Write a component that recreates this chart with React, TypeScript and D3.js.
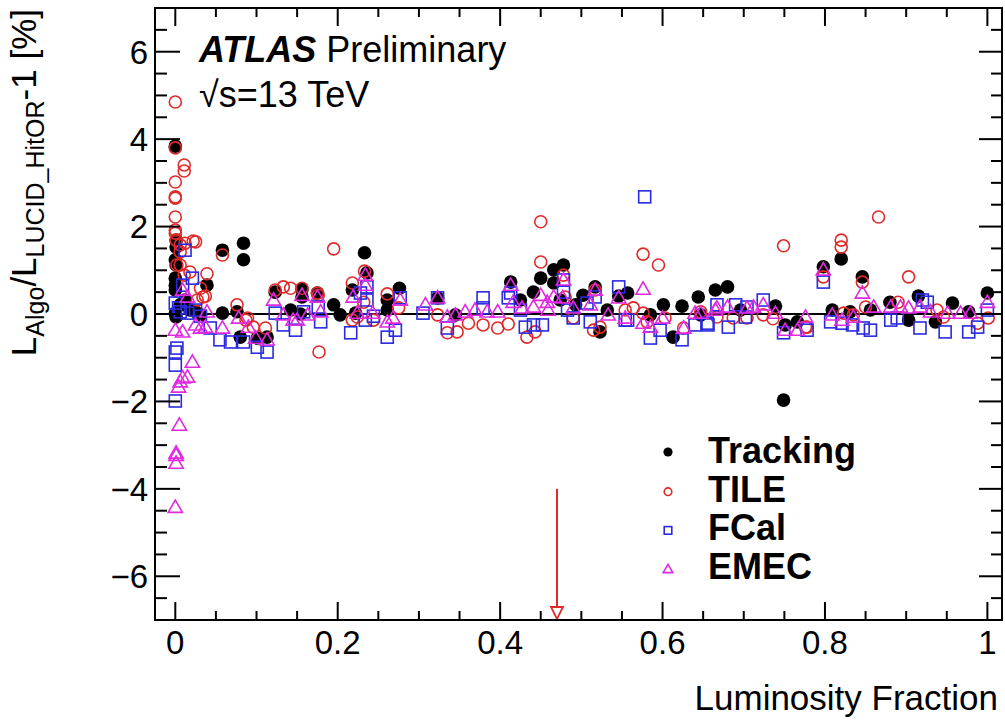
import * as d3 from "d3";
import { useEffect, useRef } from "react";

// [luminosity fraction, L_algo/L_LUCID - 1 in %]
const trackingData = [
  [0.000, 3.84], [0.001, 1.69], [0.001, 1.53], [0.000, 1.24], [0.001, 1.12], [0.000, 0.82], [0.000, 0.66],
  [0.000, 0.55], [0.000, 0.02], [0.001, -0.07], [0.006, 0.21], [0.012, 0.32], [0.018, 0.09], [0.025, 0.05],
  [0.031, -0.02], [0.058, 1.46], [0.084, 1.62], [0.084, 1.24], [0.039, 0.66], [0.058, 0.02], [0.076, 0.05],
  [0.080, -0.53], [0.101, -0.55], [0.113, -0.53], [0.123, 0.50], [0.156, 0.57], [0.156, 0.39], [0.175, 0.48],
  [0.195, 0.21], [0.233, 1.40], [0.236, 0.94], [0.218, 0.55], [0.142, 0.09], [0.154, 0.00], [0.203, -0.02],
  [0.222, 0.02], [0.276, 0.59], [0.261, 0.32], [0.261, 0.09], [0.323, 0.37], [0.345, -0.02], [0.413, 0.73],
  [0.450, 0.82], [0.466, 1.01], [0.478, 1.12], [0.466, 0.71], [0.441, 0.50], [0.502, 0.43], [0.517, 0.62],
  [0.523, -0.41], [0.425, 0.32], [0.474, 0.32], [0.493, 0.21], [0.557, 0.48], [0.546, 0.41], [0.532, 0.09],
  [0.601, 0.21], [0.624, 0.18], [0.644, 0.39], [0.665, 0.55], [0.680, 0.62], [0.613, -0.53], [0.585, -0.02],
  [0.647, -0.02], [0.696, 0.09], [0.739, 0.18], [0.751, -0.25], [0.766, -0.18], [0.749, -1.97], [0.798, 1.08],
  [0.809, 0.09], [0.820, 1.26], [0.846, 0.85], [0.880, 0.27], [0.903, -0.14], [0.915, 0.41], [0.936, -0.18],
  [0.957, 0.25], [0.977, 0.05], [1.000, 0.48], [0.856, 0.09], [0.831, 0.05],
];

const tileData = [
  [0.000, 4.85], [0.000, 3.80], [0.011, 3.41], [0.011, 3.27], [0.000, 3.02], [0.000, 2.68], [0.000, 2.65],
  [0.000, 2.22], [0.000, 1.92], [0.000, 1.85], [0.001, 1.69], [0.006, 1.58], [0.012, 1.62], [0.022, 1.67],
  [0.006, 1.42], [0.006, 1.12], [0.011, 0.89], [0.018, 0.96], [0.039, 0.92], [0.031, 0.59], [0.037, 0.41],
  [0.058, 1.35], [0.025, 1.65], [0.002, 1.12], [0.034, 0.39], [0.027, 0.32], [0.076, 0.21], [0.087, -0.14],
  [0.096, -0.30], [0.111, -0.32], [0.177, -0.87], [0.195, 1.49], [0.123, 0.55], [0.133, 0.62], [0.156, 0.59],
  [0.175, 0.48], [0.142, 0.59], [0.089, -0.09], [0.233, 0.98], [0.218, 0.71], [0.232, 0.27], [0.244, -0.14],
  [0.224, -0.07], [0.261, 0.46], [0.275, 0.14], [0.323, -0.02], [0.335, -0.43], [0.218, -0.14], [0.176, 0.43],
  [0.347, -0.41], [0.361, -0.21], [0.379, -0.25], [0.397, -0.32], [0.410, -0.23], [0.433, -0.53], [0.443, -0.41],
  [0.450, 2.11], [0.450, 1.19], [0.478, 0.89], [0.480, 0.39], [0.517, 0.55], [0.515, -0.37], [0.490, -0.09],
  [0.576, 1.37], [0.595, 1.12], [0.576, 0.02], [0.581, -0.18], [0.626, -0.32], [0.564, 0.14], [0.554, 0.09],
  [0.687, -0.09], [0.603, -0.09], [0.647, 0.05], [0.667, -0.07], [0.704, -0.09], [0.736, -0.11], [0.776, -0.30],
  [0.523, -0.30], [0.749, 1.56], [0.820, 1.69], [0.820, 1.53], [0.866, 2.22], [0.846, 0.73], [0.903, 0.85],
  [0.798, 0.85], [0.890, 0.27], [0.823, 0.02], [0.835, -0.02], [0.850, 0.16], [0.938, 0.09], [0.946, -0.07],
  [0.988, -0.21], [0.778, -0.30], [0.724, -0.02], [1.001, -0.09],
];

const fcalData = [
  [0.000, -1.99], [0.002, -0.78], [0.000, -0.87], [0.000, -1.17], [0.012, 1.46], [0.009, 0.66], [0.021, 0.82],
  [0.015, 0.02], [0.006, 0.05], [0.000, 0.25], [0.004, 0.14], [0.025, 0.09], [0.031, -0.05], [0.043, -0.32],
  [0.055, -0.59], [0.068, -0.64], [0.084, -0.64], [0.101, -0.76], [0.113, -0.87], [0.123, 0.02], [0.133, -0.25],
  [0.148, -0.37], [0.179, -0.18], [0.216, -0.43], [0.228, 0.48], [0.234, -0.14], [0.244, -0.05], [0.158, 0.05],
  [0.176, 0.16], [0.236, 0.62], [0.236, 0.32], [0.261, -0.53], [0.271, -0.37], [0.277, 0.37], [0.305, 0.02],
  [0.323, 0.37], [0.335, -0.32], [0.379, 0.37], [0.379, 0.14], [0.413, 0.48], [0.410, 0.37], [0.425, 0.09],
  [0.431, -0.30], [0.441, -0.25], [0.452, -0.25], [0.478, 0.78], [0.478, 0.50], [0.483, 0.09], [0.507, 0.25],
  [0.517, 0.39], [0.490, -0.09], [0.511, -0.18], [0.578, 2.68], [0.546, 0.62], [0.557, -0.14], [0.585, -0.55],
  [0.597, -0.37], [0.624, -0.59], [0.640, -0.25], [0.656, -0.25], [0.667, 0.21], [0.681, -0.30], [0.690, 0.21],
  [0.702, -0.07], [0.724, 0.32], [0.749, -0.43], [0.778, -0.37], [0.554, -0.14], [0.655, -0.21], [0.704, 0.16],
  [0.798, 0.73], [0.807, -0.18], [0.821, -0.21], [0.834, -0.25], [0.847, -0.32], [0.856, -0.37], [0.881, -0.14],
  [0.889, -0.09], [0.917, -0.32], [0.926, 0.27], [0.948, -0.41], [0.977, -0.41], [0.988, -0.30], [1.000, 0.09],
  [0.920, 0.32],
];

const emecData = [
  [0.000, -4.42], [0.001, -3.41], [0.001, -3.23], [0.001, -3.18], [0.005, -2.54], [0.004, -1.67], [0.009, -1.46],
  [0.015, -1.44], [0.021, -1.10], [0.006, -1.55], [0.000, -0.37], [0.009, -0.41], [0.025, -0.25], [0.031, -0.32],
  [0.037, -0.30], [0.039, 0.05], [0.015, 0.39], [0.009, 0.55], [0.058, -0.32], [0.078, -0.09], [0.090, -0.30],
  [0.099, -0.55], [0.113, -0.59], [0.121, 0.32], [0.133, -0.02], [0.145, -0.14], [0.156, 0.43], [0.163, -0.02],
  [0.175, 0.39], [0.179, 0.05], [0.150, -0.14], [0.224, 0.02], [0.219, 0.39], [0.234, 0.89], [0.234, 0.66],
  [0.243, 0.02], [0.261, -0.18], [0.268, -0.09], [0.277, 0.32], [0.308, 0.21], [0.323, 0.37], [0.335, -0.07],
  [0.345, -0.02], [0.357, 0.05], [0.369, 0.09], [0.384, 0.05], [0.397, 0.05], [0.413, 0.66], [0.416, 0.27],
  [0.427, 0.14], [0.441, 0.16], [0.450, 0.43], [0.458, 0.27], [0.466, 0.39], [0.477, 0.37], [0.478, 0.78],
  [0.490, 0.14], [0.511, 0.21], [0.517, 0.55], [0.459, 0.09], [0.576, 0.57], [0.546, 0.37], [0.533, -0.02],
  [0.554, -0.09], [0.576, -0.21], [0.585, -0.30], [0.600, -0.09], [0.626, -0.32], [0.640, 0.02], [0.647, 0.02],
  [0.667, 0.14], [0.680, 0.16], [0.704, 0.14], [0.712, 0.16], [0.724, 0.21], [0.739, 0.02], [0.751, -0.37],
  [0.766, -0.37], [0.776, -0.07], [0.798, 1.01], [0.846, 0.48], [0.809, -0.02], [0.821, -0.14], [0.835, -0.07],
  [0.860, 0.16], [0.881, 0.16], [0.893, 0.16], [0.903, 0.14], [0.917, 0.16], [0.930, 0.05], [0.951, 0.02],
  [0.967, 0.02], [0.979, 0.02], [1.000, 0.27], [0.665, 0.09],
];

const xTicks = [0, 0.2, 0.4, 0.6, 0.8, 1];
const xTickLabels = ["0", "0.2", "0.4", "0.6", "0.8", "1"];
const yTicks = [6, 4, 2, 0, -2, -4, -6];
const yTickLabels = ["6", "4", "2", "0", "\u22122", "\u22124", "\u22126"];
const legendNames = ["Tracking", "TILE", "FCal", "EMEC"];
const arrowX = 0.47;
const arrowFrom = -4.0;

const RED = "#e02a2a";
const BLUE = "#2a2ae0";
const MAGENTA = "#e02ae0";
const FONT = "Liberation Sans, Arial, sans-serif";

const App = () => {
  const svgRef = useRef(null);
  const width = 1005;
  const height = 724;

  useEffect(() => {
    const svg = d3.select(svgRef.current).attr("width", width).attr("height", height);
    svg.selectAll("*").remove();

    const left = 155, right = 1002, top = 8, bottom = 620;
    const x = d3.scaleLinear().domain([-0.025, 1.018]).range([left, right]);
    const y = d3.scaleLinear().domain([-7, 7]).range([bottom, top]);

    // zero line
    svg.append("line")
      .attr("x1", left).attr("x2", right)
      .attr("y1", y(0)).attr("y2", y(0))
      .attr("stroke", "#000").attr("stroke-width", 2.2);

    const marker = (g, kind, color, s) => {
      if (kind === "dot") {
        g.append("circle").attr("r", s).attr("fill", "#000");
      } else if (kind === "circle") {
        g.append("circle").attr("r", s - 0.8).attr("fill", "none").attr("stroke", color).attr("stroke-width", 1.6);
      } else if (kind === "square") {
        g.append("rect").attr("x", -s + 0.8).attr("y", -s + 0.8).attr("width", 2 * s - 1.6).attr("height", 2 * s - 1.6)
          .attr("fill", "none").attr("stroke", color).attr("stroke-width", 1.6);
      } else {
        const h = s * 1.05;
        g.append("path").attr("d", `M${-h},${h * 0.72}L${h},${h * 0.72}L0,${-h}Z`)
          .attr("fill", "none").attr("stroke", color).attr("stroke-width", 1.6);
      }
    };

    const series = [
      { data: trackingData, kind: "dot", color: "#000" },
      { data: tileData, kind: "circle", color: RED },
      { data: fcalData, kind: "square", color: BLUE },
      { data: emecData, kind: "triangle", color: MAGENTA },
    ];

    series.forEach((s) => {
      svg.append("g").selectAll("g")
        .data(s.data)
        .join("g")
        .attr("transform", (d) => `translate(${x(d[0])},${y(d[1])})`)
        .each(function () { marker(d3.select(this), s.kind, s.color, 6.8); });
    });

    // red arrow
    const ax = x(arrowX);
    svg.append("line").attr("x1", ax).attr("x2", ax).attr("y1", y(arrowFrom)).attr("y2", bottom - 2)
      .attr("stroke", RED).attr("stroke-width", 2);
    svg.append("path").attr("d", `M${ax - 6},${bottom - 13}L${ax + 6},${bottom - 13}L${ax},${bottom - 1}Z`)
      .attr("fill", "#fff").attr("stroke", RED).attr("stroke-width", 1.8);

    // frame
    svg.append("rect").attr("x", left).attr("y", top).attr("width", right - left).attr("height", bottom - top)
      .attr("fill", "none").attr("stroke", "#000").attr("stroke-width", 2);

    const ticks = svg.append("g").attr("stroke", "#000").attr("stroke-width", 2);
    d3.range(0, 1.0001, 0.05).forEach((v) => {
      const major = Math.abs(v * 5 - Math.round(v * 5)) < 1e-6;
      const len = major ? 18 : 9;
      ticks.append("line").attr("x1", x(v)).attr("x2", x(v)).attr("y1", bottom).attr("y2", bottom - len);
      ticks.append("line").attr("x1", x(v)).attr("x2", x(v)).attr("y1", top).attr("y2", top + len);
    });
    d3.range(-7, 7.0001, 0.5).forEach((v) => {
      const major = Math.abs(v / 2 - Math.round(v / 2)) < 1e-6;
      ticks.append("line").attr("x1", left).attr("x2", left + (major ? 25 : 12)).attr("y1", y(v)).attr("y2", y(v));
      ticks.append("line").attr("x1", right).attr("x2", right - (major ? 23 : 11)).attr("y1", y(v)).attr("y2", y(v));
    });

    // tick labels
    svg.append("g").selectAll("text").data(xTicks).join("text")
      .attr("x", (d) => x(d)).attr("y", 654)
      .attr("text-anchor", "middle").attr("font-family", FONT).attr("font-size", 33)
      .text((d, i) => xTickLabels[i]);
    svg.append("g").selectAll("text").data(yTicks).join("text")
      .attr("x", 148).attr("y", (d) => y(d)).attr("dy", "0.36em")
      .attr("text-anchor", "end").attr("font-family", FONT).attr("font-size", 33)
      .text((d, i) => yTickLabels[i]);

    // axis titles
    svg.append("text").attr("x", 998).attr("y", 710).attr("text-anchor", "end")
      .attr("font-family", FONT).attr("font-size", 35).text("Luminosity Fraction");

    const yt = svg.append("text").attr("transform", "translate(36,9) rotate(-90)")
      .attr("text-anchor", "end").attr("font-family", FONT).attr("font-size", 35);
    yt.append("tspan").text("L");
    yt.append("tspan").attr("font-size", 25).attr("dy", 8).text("Algo");
    yt.append("tspan").attr("dy", -8).text("/L");
    yt.append("tspan").attr("font-size", 25).attr("dy", 8).text("LUCID_HitOR");
    yt.append("tspan").attr("dy", -8).text("-1 [%]");

    // ATLAS label
    const atl = svg.append("text").attr("x", 199).attr("y", 62).attr("font-family", FONT).attr("font-size", 36);
    atl.append("tspan").attr("font-weight", "bold").attr("font-style", "italic").text("ATLAS");
    atl.append("tspan").text(" Preliminary");
    svg.append("text").attr("x", 199).attr("y", 107).attr("font-family", FONT).attr("font-size", 36)
      .text("\u221As=13 TeV");

    // legend
    const lg = svg.append("g");
    series.forEach((s, i) => {
      const row = lg.append("g").attr("transform", `translate(0,${i * 38.7})`);
      const m = row.append("g").attr("transform", `translate(668,${452 + (i === 0 ? 0 : 1)})`);
      marker(m, s.kind, s.color, 4.6);
      row.append("text").attr("x", 708).attr("y", 463).attr("font-family", FONT)
        .attr("font-size", 36).attr("font-weight", "bold").text(legendNames[i]);
    });
  }, []);

  return <svg ref={svgRef} style={{ position: "absolute", left: 0, top: 0, background: "#fff" }} />;
};

export default App;
